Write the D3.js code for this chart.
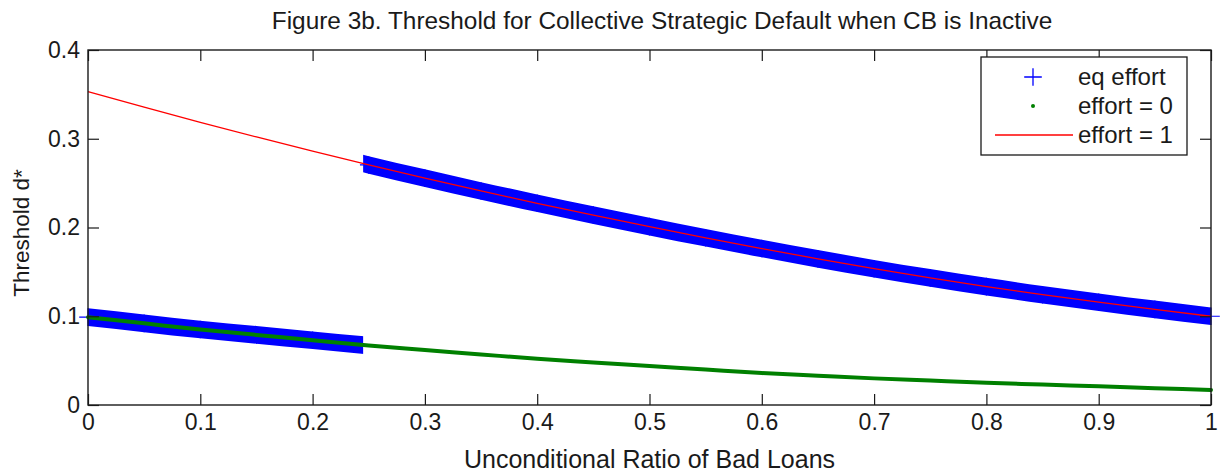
<!DOCTYPE html>
<html>
<head>
<meta charset="utf-8">
<script src="https://cdn.jsdelivr.net/npm/d3@7"></script>
<style>
  html, body { margin: 0; padding: 0; background: #fff; }
  svg { display: block; font-family: "Liberation Sans", Arial, sans-serif; }
</style>
</head>
<body>
<svg id="chart" width="1229" height="474"></svg>
<script>
// Unconditional ratio of bad loans (x grid)
const ratio = [0, 0.05, 0.10, 0.15, 0.20, 0.25, 0.30, 0.35, 0.40, 0.45, 0.50,
               0.55, 0.60, 0.65, 0.70, 0.75, 0.80, 0.85, 0.90, 0.95, 1.00];
// Threshold d* with effort = 0
const effortZero = [0.099, 0.092, 0.085, 0.079, 0.073, 0.067, 0.062, 0.057, 0.052, 0.048, 0.044,
                    0.040, 0.036, 0.033, 0.030, 0.0275, 0.025, 0.023, 0.021, 0.019, 0.017];
// Threshold d* with effort = 1
const effortOne = [0.353, 0.3355, 0.3185, 0.302, 0.286, 0.2705, 0.2556, 0.2412, 0.2273, 0.2139, 0.201,
                   0.1884, 0.1763, 0.1647, 0.1536, 0.1432, 0.1334, 0.1243, 0.1158, 0.1077, 0.100];
// Ratio at which equilibrium effort switches from 0 to 1
const eqSwitch = 0.245;

const xTicks = [0, 0.1, 0.2, 0.3, 0.4, 0.5, 0.6, 0.7, 0.8, 0.9, 1];
const xTickLabels = ["0", "0.1", "0.2", "0.3", "0.4", "0.5", "0.6", "0.7", "0.8", "0.9", "1"];
const yTicks = [0, 0.1, 0.2, 0.3, 0.4];
const yTickLabels = ["0", "0.1", "0.2", "0.3", "0.4"];
const legendLabels = ["eq effort", "effort = 0", "effort = 1"];
const titleText = "Figure 3b. Threshold for Collective Strategic Default when CB is Inactive";
const xLabelText = "Unconditional Ratio of Bad Loans";
const yLabelText = "Threshold d*";

// Equilibrium effort picks the effort = 0 branch below the switch, effort = 1 above it
const eqEffort = ratio.map((r, i) => r < eqSwitch ? effortZero[i] : effortOne[i]);

const W = 1229, H = 474;
const margin = { top: 50, right: 18, bottom: 69, left: 88 };
const iw = W - margin.left - margin.right;
const ih = H - margin.top - margin.bottom;

const BLUE = "#0000ff", GREEN = "#008000", RED = "#ff0000", INK = "#1a1a1a";
const FONT = 23;
const markerHalf = 8.8;  // half size of the "+" markers

const svg = d3.select("#chart");
const g = svg.append("g").attr("transform", `translate(${margin.left},${margin.top})`);

const x = d3.scaleLinear().domain([0, 1]).range([0, iw]);
const y = d3.scaleLinear().domain([0, 0.4]).range([ih, 0]);

const defs = svg.append("defs");
defs.append("clipPath").attr("id", "clipLow").append("rect")
  .attr("x", x(0) - 1).attr("y", -20).attr("width", x(eqSwitch) - x(0) + 1).attr("height", ih + 40);
defs.append("clipPath").attr("id", "clipHigh").append("rect")
  .attr("x", x(eqSwitch)).attr("y", -20).attr("width", x(1) - x(eqSwitch) + 1).attr("height", ih + 40);

// eq effort: densely packed "+" markers form a solid band along each branch
const band = vals => d3.area()
  .x((d, i) => x(ratio[i]))
  .y0((d, i) => y(vals[i]) - markerHalf)
  .y1((d, i) => y(vals[i]) + markerHalf)
  .curve(d3.curveMonotoneX)(vals);

g.append("path").attr("d", band(effortZero)).attr("fill", BLUE).attr("clip-path", "url(#clipLow)");
g.append("path").attr("d", band(effortOne)).attr("fill", BLUE).attr("clip-path", "url(#clipHigh)");

const plusPath = `M${-markerHalf},0H${markerHalf}M0,${-markerHalf}V${markerHalf}`;
g.append("g").selectAll("path").data(eqEffort).join("path")
  .attr("d", plusPath)
  .attr("transform", (d, i) => `translate(${x(ratio[i])},${y(d)})`)
  .attr("stroke", BLUE).attr("stroke-width", 1.2).attr("fill", "none");

// effort = 0: dense dots drawn as a thick green trace
const line = d3.line().x((d, i) => x(ratio[i])).y(d => y(d)).curve(d3.curveMonotoneX);
g.append("path").attr("d", line(effortZero))
  .attr("fill", "none").attr("stroke", GREEN).attr("stroke-width", 4).attr("stroke-linecap", "round");

// effort = 1: thin red line
g.append("path").attr("d", line(effortOne))
  .attr("fill", "none").attr("stroke", RED).attr("stroke-width", 1.3);

// Axes with inward ticks on all four sides
const tickLen = 11;
const styleAxis = sel => {
  sel.select(".domain").remove();
  sel.selectAll(".tick line").attr("stroke", INK).attr("stroke-width", 1.2);
  sel.selectAll(".tick text").attr("fill", INK).attr("font-size", FONT)
    .attr("font-family", '"Liberation Sans", Arial, sans-serif');
};

g.append("g").attr("transform", `translate(0,${ih})`)
  .call(d3.axisBottom(x).tickValues(xTicks).tickSizeInner(-tickLen).tickSizeOuter(0)
    .tickPadding(9).tickFormat((d, i) => xTickLabels[i]))
  .call(styleAxis);
g.append("g")
  .call(d3.axisTop(x).tickValues(xTicks).tickSizeInner(-tickLen).tickSizeOuter(0).tickFormat(""))
  .call(styleAxis);
g.append("g")
  .call(d3.axisLeft(y).tickValues(yTicks).tickSizeInner(-tickLen).tickSizeOuter(0)
    .tickPadding(8).tickFormat((d, i) => yTickLabels[i]))
  .call(styleAxis);
g.append("g").attr("transform", `translate(${iw},0)`)
  .call(d3.axisRight(y).tickValues(yTicks).tickSizeInner(-tickLen).tickSizeOuter(0).tickFormat(""))
  .call(styleAxis);

g.append("rect").attr("x", 0).attr("y", 0).attr("width", iw).attr("height", ih)
  .attr("fill", "none").attr("stroke", INK).attr("stroke-width", 1.4);

// Title and axis labels
svg.append("text").attr("x", 662).attr("y", 29).attr("text-anchor", "middle")
  .attr("font-size", 24.4).attr("fill", INK).text(titleText);
svg.append("text").attr("x", margin.left + iw / 2).attr("y", 468).attr("text-anchor", "middle")
  .attr("font-size", 25).attr("fill", INK).text(xLabelText);
svg.append("text").attr("transform", "translate(29,233) rotate(-90)").attr("text-anchor", "middle")
  .attr("font-size", 22.5).attr("fill", INK).text(yLabelText);

// Legend
const leg = svg.append("g").attr("transform", "translate(981,57)");
leg.append("rect").attr("width", 206).attr("height", 98)
  .attr("fill", "#fff").attr("stroke", INK).attr("stroke-width", 1.3);
const rowY = [20, 49, 78];
const sx = 52;
leg.append("path").attr("d", plusPath).attr("transform", `translate(${sx},${rowY[0]})`)
  .attr("stroke", BLUE).attr("stroke-width", 1.3).attr("fill", "none");
leg.append("circle").attr("cx", sx).attr("cy", rowY[1]).attr("r", 2).attr("fill", GREEN);
leg.append("line").attr("x1", 14).attr("x2", 92).attr("y1", rowY[2]).attr("y2", rowY[2])
  .attr("stroke", RED).attr("stroke-width", 1.3);
leg.selectAll("text.lbl").data(legendLabels).join("text").attr("class", "lbl")
  .attr("x", 97).attr("y", (d, i) => rowY[i]).attr("dy", "0.35em")
  .attr("font-size", 24).attr("fill", INK).text(d => d);
</script>
</body>
</html>
